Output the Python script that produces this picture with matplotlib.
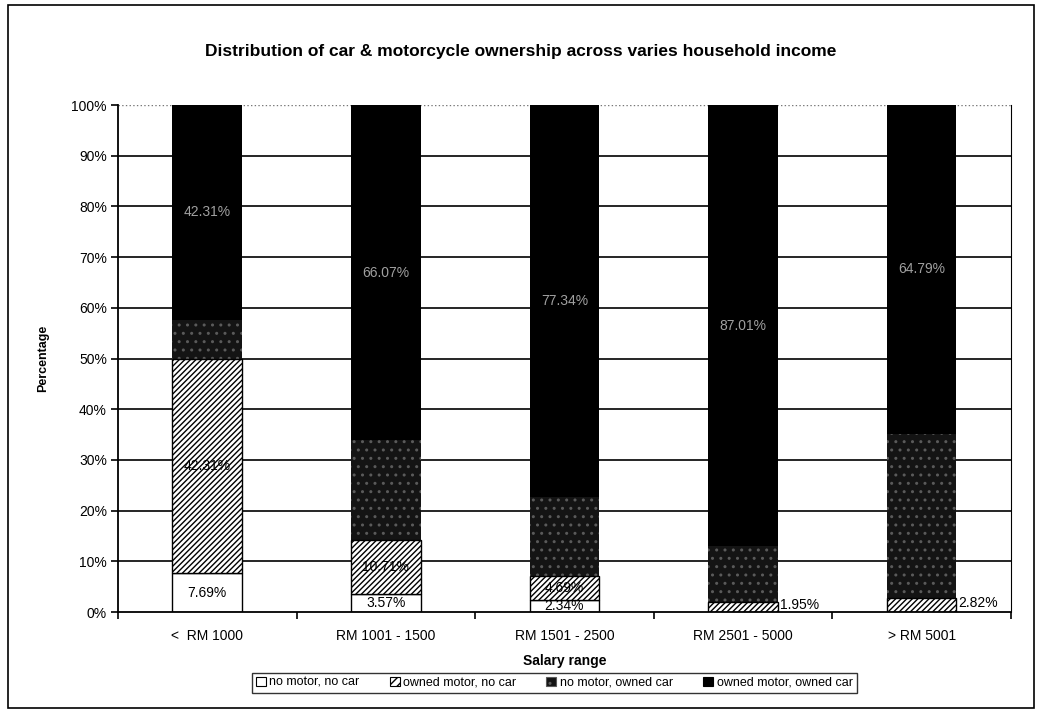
import matplotlib
matplotlib.use('Agg')
import matplotlib.pyplot as plt
import numpy as np
from matplotlib.patches import Patch, Rectangle

plt.rcParams['font.family'] = ['Liberation Sans', 'DejaVu Sans']

# 数据
categories = ['<  RM 1000', 'RM 1001 - 1500', 'RM 1501 - 2500', 'RM 2501 - 5000', '> RM 5001']
series_names = ['no motor, no car', 'owned motor, no car', 'no motor, owned car', 'owned motor, owned car']
no_motor_no_car = [7.69, 3.57, 2.34, 0.0, 0.0]
motor_no_car = [42.31, 10.71, 4.69, 1.95, 2.82]
no_motor_car = [7.69, 19.65, 15.63, 11.04, 32.39]
motor_car = [42.31, 66.07, 77.34, 87.01, 64.79]
y_ticks = [0, 10, 20, 30, 40, 50, 60, 70, 80, 90, 100]

fig = plt.figure(figsize=(10.42, 7.12), dpi=100)
ax = fig.add_axes([0.1132, 0.1404, 0.857, 0.7121])

x = np.arange(len(categories))
w = 0.39

# 横向网格线
for t in y_ticks[1:-1]:
    ax.axhline(t, color='black', lw=1.2, zorder=1)
ax.axhline(100, color='#777777', lw=1.0, ls=':', zorder=1)

bottom = np.zeros(len(categories))
# 1. no motor, no car - 白色
ax.bar(x, no_motor_no_car, w, bottom=bottom, color='white', edgecolor='black', lw=1.0, zorder=2)
for xi, v, b in zip(x, no_motor_no_car, bottom):
    if v > 0:
        ax.text(xi, b + v / 2, f'{v:.2f}%', ha='center', va='center', fontsize=10, zorder=5)
bottom = bottom + np.array(no_motor_no_car)

# 2. owned motor, no car - 斜线
ax.bar(x, motor_no_car, w, bottom=bottom, color='white', edgecolor='black', hatch='//////', lw=0, zorder=2)
ax.bar(x, motor_no_car, w, bottom=bottom, fill=False, edgecolor='black', lw=1.0, zorder=3)
for i, (xi, v, b) in enumerate(zip(x, motor_no_car, bottom)):
    if no_motor_no_car[i] > 0:
        ax.text(xi, b + v / 2, f'{v:.2f}%', ha='center', va='center', fontsize=10, zorder=5)
    else:
        # 太小的段，标签放在柱子右侧
        ax.text(xi + w / 2 + 0.01, b + v / 2 + 0.4, f'{v:.2f}%', ha='left', va='center',
                fontsize=10, zorder=5)
bottom = bottom + np.array(motor_no_car)

# 3. no motor, owned car - 深灰带点
ax.bar(x, no_motor_car, w, bottom=bottom, color='#141414', edgecolor='#5a5a5a', hatch='..', lw=0, zorder=2)
bottom = bottom + np.array(no_motor_car)

# 4. owned motor, owned car - 黑色
ax.bar(x, motor_car, w, bottom=bottom, color='black', edgecolor='black', lw=0, zorder=2)
for xi, v, b in zip(x, motor_car, bottom):
    ax.text(xi, b + v / 2, f'{v:.2f}%', ha='center', va='center', fontsize=10,
            color='#a0a0a0', zorder=5)

ax.set_xlim(-0.5, len(categories) - 0.5)
ax.set_ylim(0, 100)
ax.set_yticks(y_ticks)
ax.set_yticklabels([f'{t}%' for t in y_ticks], fontsize=10)
ax.set_xticks(x)
ax.set_xticklabels(categories, fontsize=10)
ax.tick_params(axis='x', length=0, pad=12)
ax.set_xticks(np.arange(-0.5, len(categories)), minor=True)
ax.tick_params(axis='x', which='minor', length=5, width=1.2, direction='out')
ax.tick_params(axis='y', length=5, width=1.2, direction='out', pad=3)

for s in ['left', 'bottom']:
    ax.spines[s].set_linewidth(1.3)
ax.spines['right'].set_linewidth(0.8)
ax.spines['top'].set_visible(False)

ax.set_xlabel('Salary range', fontsize=10, fontweight='bold', labelpad=8)
ax.set_ylabel('Percentage', fontsize=9, fontweight='bold', labelpad=16)

fig.text(0.5, 0.927, 'Distribution of car & motorcycle ownership across varies household income',
         ha='center', va='center', fontsize=12.5, fontweight='bold')

handles = [
    Patch(facecolor='white', edgecolor='black', lw=0.8),
    Patch(facecolor='white', edgecolor='black', hatch='////', lw=0.8),
    Patch(facecolor='#141414', edgecolor='#5a5a5a', hatch='..', lw=0.8),
    Patch(facecolor='black', edgecolor='black', lw=0.8),
]
leg = fig.legend(handles, series_names, loc='center', bbox_to_anchor=(0.532, 0.041), ncol=4,
                 fontsize=9, frameon=True, fancybox=False, edgecolor='black',
                 handlelength=0.8, handleheight=0.8, handletextpad=0.3, columnspacing=2.4,
                 borderpad=0.3)
leg.get_frame().set_linewidth(1.0)

# 图表外框
fig.patches.append(Rectangle((0.008, 0.006), 0.984, 0.987, transform=fig.transFigure,
                             fill=False, edgecolor='black', lw=1.2))

fig.savefig('out.png', dpi=100)
